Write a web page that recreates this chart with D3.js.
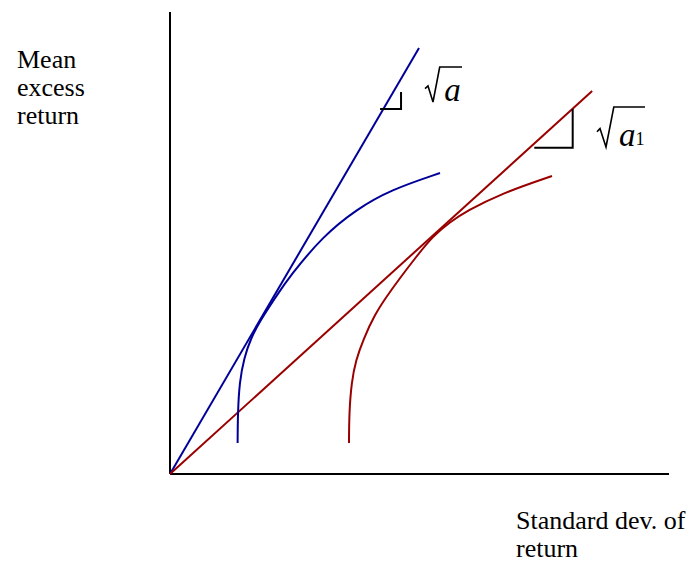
<!DOCTYPE html>
<html>
<head>
<meta charset="utf-8">
<script src="https://cdn.jsdelivr.net/npm/d3@7"></script>
<style>
  html, body { margin: 0; padding: 0; background: #fff; }
  svg { display: block; }
  text { font-family: "Liberation Serif", "Times New Roman", serif; fill: #000; }
</style>
</head>
<body>
<svg id="chart" width="692" height="562"></svg>
<script>
// Efficient frontiers (std. dev., mean excess return) for the two asset sets
const frontierA = [
  [13.55, 6.71], [13.59, 13.2], [13.93, 19.91], [14.83, 25.11], [16.23, 29.44],
  [18.04, 33.12], [21.04, 38.1], [24.05, 42.86], [30.66, 51.52], [37.47, 57.36],
  [44.09, 61.47], [54.11, 65.15]
];
const frontierA1 = [
  [35.87, 6.71], [35.91, 13.2], [36.37, 19.91], [37.27, 24.68], [38.68, 29.0],
  [41.08, 34.63], [43.49, 38.53], [46.09, 42.42], [49.3, 46.97], [52.71, 51.52],
  [56.11, 54.55], [59.52, 56.93], [66.13, 60.61], [76.55, 64.5]
];
// Capital allocation lines from the origin
const lineA = [[0, 0], [49.9, 92.2]];
const lineA1 = [[0, 0], [84.6, 82.9]];
// Slope markers: [x0, x1, yBase, yTop]
const slopeA = [42.1, 46.3, 79.0, 82.7];
const slopeA1 = [73.0, 80.7, 70.6, 79.0];

const axisLabelY = ["Mean", "excess", "return"];
const axisLabelX = ["Standard dev. of", "return"];

const svg = d3.select("#chart");
const x = d3.scaleLinear().domain([0, 100]).range([170, 669]);
const y = d3.scaleLinear().domain([0, 100]).range([474, 12]);

const blue = "#000099";
const red = "#990000";

// Axes
svg.append("line").attr("x1", x(0)).attr("x2", x(0)).attr("y1", y(0)).attr("y2", y(100))
  .attr("stroke", "#000").attr("stroke-width", 2);
svg.append("line").attr("x1", x(0)).attr("x2", x(100)).attr("y1", y(0)).attr("y2", y(0))
  .attr("stroke", "#000").attr("stroke-width", 2);

const straight = d3.line().x(d => x(d[0])).y(d => y(d[1]));
const smooth = d3.line().x(d => x(d[0])).y(d => y(d[1])).curve(d3.curveBasis);

svg.append("path").attr("d", straight(lineA)).attr("fill", "none").attr("stroke", blue).attr("stroke-width", 2);
svg.append("path").attr("d", straight(lineA1)).attr("fill", "none").attr("stroke", red).attr("stroke-width", 2);
svg.append("path").attr("d", smooth(frontierA)).attr("fill", "none").attr("stroke", blue).attr("stroke-width", 2);
svg.append("path").attr("d", smooth(frontierA1)).attr("fill", "none").attr("stroke", red).attr("stroke-width", 2);

// Slope markers (right-angle brackets)
function slopeMarker(s) {
  svg.append("path")
    .attr("d", `M${x(s[0])},${y(s[2])}H${x(s[1])}V${y(s[3])}`)
    .attr("fill", "none").attr("stroke", "#000").attr("stroke-width", 2);
}
slopeMarker(slopeA);
slopeMarker(slopeA1);

// Square-root labels
function rootLabel(px, py, w, h, letterSize, sub) {
  const g = svg.append("g").attr("transform", `translate(${px},${py})`);
  // radical sign: small tick, down stroke, long up stroke, overbar
  g.append("path")
    .attr("d", `M0,${h * 0.62} L3,${h * 0.54} L${h * 0.2 + 1},${h} L${h * 0.42},0 H${w}`)
    .attr("fill", "none").attr("stroke", "#000").attr("stroke-width", 1.6)
    .attr("stroke-linejoin", "miter");
  g.append("text").attr("x", h * 0.55).attr("y", h - 1)
    .attr("font-size", letterSize).attr("font-style", "italic").text("a");
  if (sub) {
    g.append("text").attr("x", h * 0.55 + letterSize * 0.5).attr("y", h - 2)
      .attr("font-size", letterSize * 0.55).text(sub);
  }
}
rootLabel(425, 67, 37, 35, 33, null);
rootLabel(597, 107, 48, 40, 33, "1");

// Axis titles
const yl = svg.append("text").attr("x", 17).attr("y", 68).attr("font-size", 26);
axisLabelY.forEach((t, i) => yl.append("tspan").attr("x", 17).attr("dy", i ? 28 : 0).text(t));
const xl = svg.append("text").attr("x", 516).attr("y", 529).attr("font-size", 26);
axisLabelX.forEach((t, i) => xl.append("tspan").attr("x", 516).attr("dy", i ? 28 : 0).text(t));
</script>
</body>
</html>
